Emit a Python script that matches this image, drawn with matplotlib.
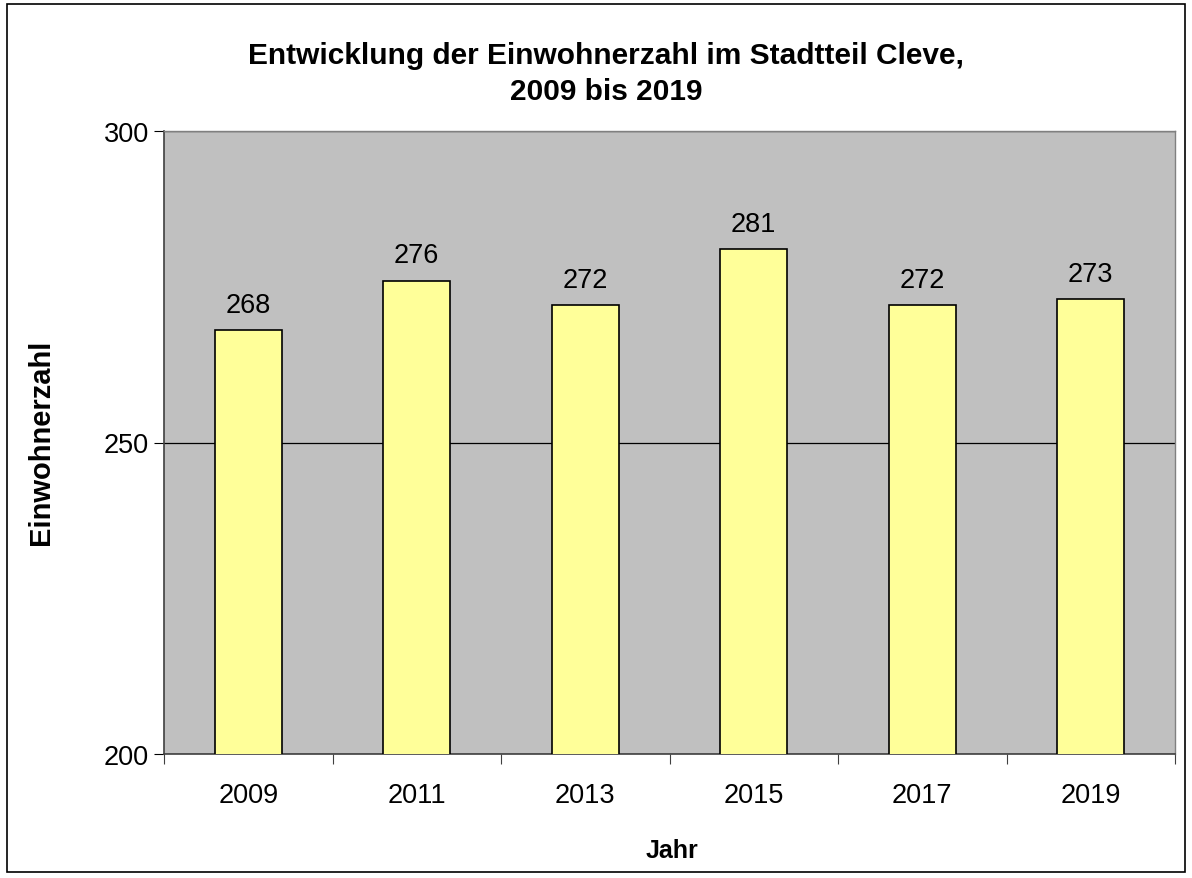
import matplotlib.pyplot as plt
from matplotlib.patches import Rectangle

plt.rcParams['font.family'] = ['Liberation Sans', 'DejaVu Sans']

years = ['2009', '2011', '2013', '2015', '2017', '2019']
einwohner = [268, 276, 272, 281, 272, 273]

fig = plt.figure(figsize=(11.92, 8.79), dpi=100)
fig.patches.append(Rectangle((7 / 1192, 6 / 879), 1178 / 1192, 868 / 879,
                             transform=fig.transFigure, fill=False,
                             edgecolor='black', linewidth=1.2))

ax = fig.add_axes([164 / 1192, 124 / 879, 1011 / 1192, 623 / 879])
ax.set_facecolor('#C0C0C0')

x = range(len(years))
ax.bar(x, einwohner, width=0.40, color='#FFFF99', edgecolor='black',
       linewidth=1.2, zorder=3)
for xi, v in zip(x, einwohner):
    ax.text(xi, v + 2.0, str(v), ha='center', va='bottom', fontsize=19.5, zorder=4)

ax.set_xlim(-0.5, len(years) - 0.5)
ax.set_ylim(200, 300)
ax.set_yticks([200, 250, 300])
ax.yaxis.grid(True, color='black', linewidth=0.9, zorder=1)

# ticks sit between the categories, labels in the middle
ax.set_xticks([i - 0.5 for i in range(len(years) + 1)])
ax.set_xticklabels([])
ax.set_xticks(list(x), minor=True)
ax.set_xticklabels(years, minor=True)
ax.tick_params(axis='x', which='minor', length=0, pad=20, labelsize=19.5)
ax.tick_params(axis='x', which='major', length=7, direction='out', color='#404040')
ax.tick_params(axis='y', length=7, labelsize=19.5, pad=4)

for side in ['left', 'bottom']:
    ax.spines[side].set_color('#404040')
    ax.spines[side].set_linewidth(1.2)
for side in ['top', 'right']:
    ax.spines[side].set_color('#808080')
    ax.spines[side].set_linewidth(1.0)

fig.text(672 / 1192, 1 - 851 / 879, 'Jahr', ha='center', va='center',
         fontsize=18, fontweight='bold')
fig.text(41 / 1192, 1 - 442 / 879, 'Einwohnerzahl', ha='center', va='center',
         rotation=90, fontsize=21, fontweight='bold')
fig.text(606 / 1192, 1 - 74 / 879, 'Entwicklung der Einwohnerzahl im Stadtteil Cleve,\n2009 bis 2019',
         ha='center', va='center', fontsize=21.5, fontweight='bold', linespacing=1.35)

fig.savefig('out.png', dpi=100)
